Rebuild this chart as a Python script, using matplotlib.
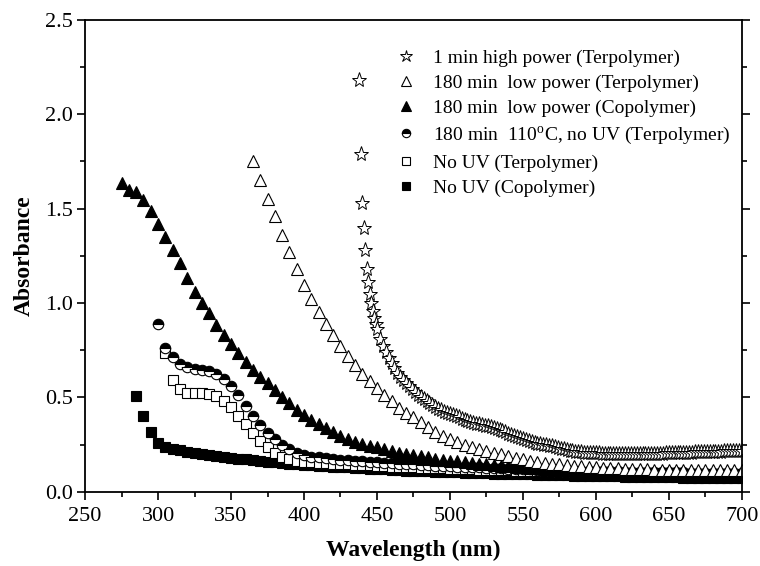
import numpy as np
import matplotlib
matplotlib.use('Agg')
import matplotlib.pyplot as plt
from matplotlib.ticker import MultipleLocator

plt.rcParams['font.family'] = ['Liberation Serif', 'DejaVu Serif']
plt.rcParams['mathtext.fontset'] = 'custom'
plt.rcParams['mathtext.rm'] = 'Liberation Serif'

# 1 min high power (Terpolymer)
wl_star = np.concatenate([np.arange(438, 451), np.arange(452, 701, 2)])
ab_star = [2.18, 1.79, 1.53, 1.40, 1.28, 1.18, 1.11, 1.05, 1.00, 0.96, 0.92, 0.89, 0.86,
           0.81, 0.77, 0.74, 0.71, 0.68, 0.655, 0.63, 0.61, 0.59, 0.575, 0.56, 0.545, 0.53,
           0.515, 0.50, 0.49, 0.48, 0.47, 0.46, 0.45, 0.44, 0.432, 0.425, 0.418, 0.412,
           0.406, 0.40, 0.394, 0.388, 0.382, 0.377, 0.372, 0.367, 0.362, 0.358, 0.354,
           0.35, 0.347, 0.344, 0.34, 0.334, 0.328, 0.322, 0.315, 0.309, 0.303, 0.297,
           0.291, 0.285, 0.279, 0.273, 0.268, 0.263, 0.258, 0.254, 0.251, 0.249, 0.247,
           0.245, 0.243, 0.239, 0.234, 0.229, 0.225, 0.222, 0.219, 0.216, 0.213, 0.211,
           0.209, 0.208, 0.207, 0.206, 0.205, 0.204, 0.204, 0.203, 0.203, 0.202, 0.202,
           0.202, 0.201, 0.201, 0.201, 0.201, 0.201, 0.201, 0.201, 0.201, 0.201, 0.201,
           0.201, 0.202, 0.202, 0.202, 0.202, 0.203, 0.203, 0.204, 0.204, 0.205, 0.205,
           0.206, 0.206, 0.207, 0.207, 0.208, 0.208, 0.209, 0.209, 0.21, 0.21, 0.211,
           0.211, 0.212, 0.212, 0.213, 0.213, 0.214, 0.214, 0.215, 0.215, 0.216, 0.216,
           0.217]

# 180 min low power (Terpolymer)
wl_otri = np.arange(365, 701, 5)
ab_otri = [1.75, 1.65, 1.55, 1.46, 1.36, 1.27, 1.18, 1.095, 1.02, 0.95, 0.89, 0.83,
           0.775, 0.72, 0.67, 0.625, 0.585, 0.55, 0.515, 0.48, 0.445, 0.42, 0.395, 0.368,
           0.342, 0.318, 0.297, 0.278, 0.262, 0.248, 0.236, 0.225, 0.215, 0.206, 0.198,
           0.19, 0.18, 0.172, 0.166, 0.16, 0.155, 0.15, 0.146, 0.142, 0.138, 0.135, 0.132,
           0.13, 0.128, 0.126, 0.124, 0.122, 0.121, 0.12, 0.119, 0.118, 0.117, 0.117,
           0.116, 0.116, 0.115, 0.115, 0.115, 0.114, 0.114, 0.114, 0.114, 0.114]

# 180 min low power (Copolymer)
wl_ftri = np.arange(275, 701, 5)
ab_ftri = [1.635, 1.60, 1.59, 1.545, 1.485, 1.42, 1.35, 1.28, 1.21, 1.13, 1.06, 1.0,
           0.945, 0.885, 0.83, 0.785, 0.735, 0.69, 0.648, 0.61, 0.574, 0.54, 0.505, 0.47,
           0.435, 0.408, 0.382, 0.36, 0.337, 0.316, 0.297, 0.28, 0.265, 0.252, 0.243,
           0.235, 0.225, 0.215, 0.207, 0.2, 0.194, 0.188, 0.182, 0.176, 0.171, 0.166,
           0.161, 0.157, 0.153, 0.149, 0.145, 0.142, 0.139, 0.136, 0.133, 0.13, 0.127,
           0.125, 0.123, 0.12, 0.118, 0.116, 0.114, 0.112, 0.11, 0.109, 0.107, 0.106,
           0.104, 0.103, 0.102, 0.101, 0.1, 0.099, 0.098, 0.097, 0.096, 0.095, 0.094,
           0.093, 0.092, 0.091, 0.091, 0.09, 0.09, 0.089]

# 180 min 110C, no UV (Terpolymer)
wl_hcir = np.arange(300, 701, 5)
ab_hcir = [0.889, 0.76, 0.712, 0.677, 0.659, 0.65, 0.645, 0.641, 0.624, 0.597, 0.558,
           0.512, 0.456, 0.403, 0.353, 0.314, 0.279, 0.249, 0.226, 0.208, 0.196, 0.187,
           0.182, 0.177, 0.173, 0.17, 0.167, 0.164, 0.161, 0.158, 0.156, 0.153, 0.151,
           0.149, 0.147, 0.145, 0.143, 0.141, 0.139, 0.137, 0.135, 0.134, 0.132, 0.13,
           0.129, 0.127, 0.126, 0.124, 0.123, 0.122, 0.12, 0.119, 0.118, 0.117, 0.116,
           0.115, 0.114, 0.113, 0.112, 0.111, 0.11, 0.109, 0.109, 0.108, 0.107, 0.107,
           0.106, 0.105, 0.105, 0.104, 0.104, 0.103, 0.103, 0.102, 0.102, 0.101, 0.101,
           0.1, 0.1, 0.1, 0.1]

# No UV (Terpolymer)
wl_osq = np.arange(305, 701, 5)
ab_osq = [0.735, 0.592, 0.544, 0.526, 0.526, 0.526, 0.518, 0.509, 0.482, 0.447, 0.403,
          0.359, 0.314, 0.27, 0.235, 0.205, 0.186, 0.173, 0.164, 0.16, 0.157, 0.154,
          0.152, 0.15, 0.148, 0.146, 0.144, 0.142, 0.14, 0.138, 0.136, 0.134, 0.133,
          0.131, 0.13, 0.128, 0.127, 0.125, 0.124, 0.123, 0.121, 0.12, 0.119, 0.118,
          0.117, 0.116, 0.115, 0.114, 0.113, 0.112, 0.111, 0.11, 0.109, 0.108, 0.107,
          0.106, 0.105, 0.105, 0.104, 0.103, 0.102, 0.102, 0.101, 0.1, 0.1, 0.099, 0.099,
          0.098, 0.098, 0.097, 0.097, 0.096, 0.096, 0.095, 0.095, 0.095, 0.094, 0.094,
          0.094, 0.093]

# No UV (Copolymer)
wl_fsq = np.arange(285, 701, 5)
ab_fsq = [0.51, 0.40, 0.315, 0.258, 0.24, 0.228, 0.22, 0.213, 0.206, 0.2, 0.195, 0.19,
          0.185, 0.18, 0.176, 0.172, 0.168, 0.164, 0.16, 0.156, 0.153, 0.15, 0.147,
          0.144, 0.141, 0.138, 0.136, 0.133, 0.131, 0.129, 0.127, 0.125, 0.123, 0.121,
          0.119, 0.117, 0.115, 0.113, 0.112, 0.11, 0.109, 0.107, 0.106, 0.104, 0.103,
          0.102, 0.1, 0.099, 0.098, 0.097, 0.096, 0.095, 0.094, 0.093, 0.092, 0.091,
          0.09, 0.089, 0.088, 0.087, 0.086, 0.085, 0.085, 0.084, 0.083, 0.082, 0.082,
          0.081, 0.08, 0.08, 0.079, 0.078, 0.078, 0.077, 0.077, 0.076, 0.076, 0.075,
          0.075, 0.074, 0.074, 0.073, 0.073, 0.072]

labels = ['1 min high power (Terpolymer)',
          '180 min  low power (Terpolymer)',
          '180 min  low power (Copolymer)',
          r'180 min  110$^\mathregular{o}$C, no UV (Terpolymer)',
          'No UV (Terpolymer)',
          'No UV (Copolymer)']

fig = plt.figure(figsize=(7.6, 5.66), dpi=100)
ax = fig.add_axes([0.112, 0.131, 0.864, 0.834])

mew = 0.8
h_fsq, = ax.plot(wl_fsq, ab_fsq, 's', ms=7, mfc='black', mec='black', mew=mew, ls='none')
h_osq, = ax.plot(wl_osq, ab_osq, 's', ms=7, mfc='white', mec='black', mew=mew, ls='none')
h_hcir, = ax.plot(wl_hcir, ab_hcir, 'o', ms=7.5, fillstyle='top', mfc='black',
                  markerfacecoloralt='white', mec='black', mew=mew, ls='none')
h_ftri, = ax.plot(wl_ftri, ab_ftri, '^', ms=8.5, mfc='black', mec='black', mew=mew, ls='none')
h_otri, = ax.plot(wl_otri, ab_otri, '^', ms=9, mfc='white', mec='black', mew=mew, ls='none')
h_star, = ax.plot(wl_star, ab_star, '*', ms=11, mfc='white', mec='black', mew=0.7, ls='none')

ax.set_xlim(250, 700)
ax.set_ylim(0, 2.5)
ax.xaxis.set_major_locator(MultipleLocator(50))
ax.xaxis.set_minor_locator(MultipleLocator(25))
ax.yaxis.set_major_locator(MultipleLocator(0.5))
ax.yaxis.set_minor_locator(MultipleLocator(0.25))
ax.yaxis.set_major_formatter(plt.FormatStrFormatter('%.1f'))
ax.tick_params(which='both', direction='out', top=False, right=True,
               labelsize=16, width=1.2)
ax.tick_params(which='major', length=6)
ax.tick_params(which='minor', length=3.5)
ax.tick_params(axis='x', which='major', pad=5)
ax.tick_params(axis='y', which='major', pad=3)
for s in ax.spines.values():
    s.set_linewidth(1.3)

ax.set_xlabel('Wavelength (nm)', fontsize=17, fontweight='bold', labelpad=10)
ax.set_ylabel('Absorbance', fontsize=17, fontweight='bold', labelpad=7)

handles = [h_star, h_otri, h_ftri, h_hcir, h_osq, h_fsq]
leg = ax.legend(handles, labels, loc='upper left', bbox_to_anchor=(0.46, 0.955),
                frameon=False, fontsize=14, labelspacing=0.38, handletextpad=0.86,
                handlelength=1.1, markerscale=0.8, borderaxespad=0)

fig.savefig('out.png', dpi=100)
